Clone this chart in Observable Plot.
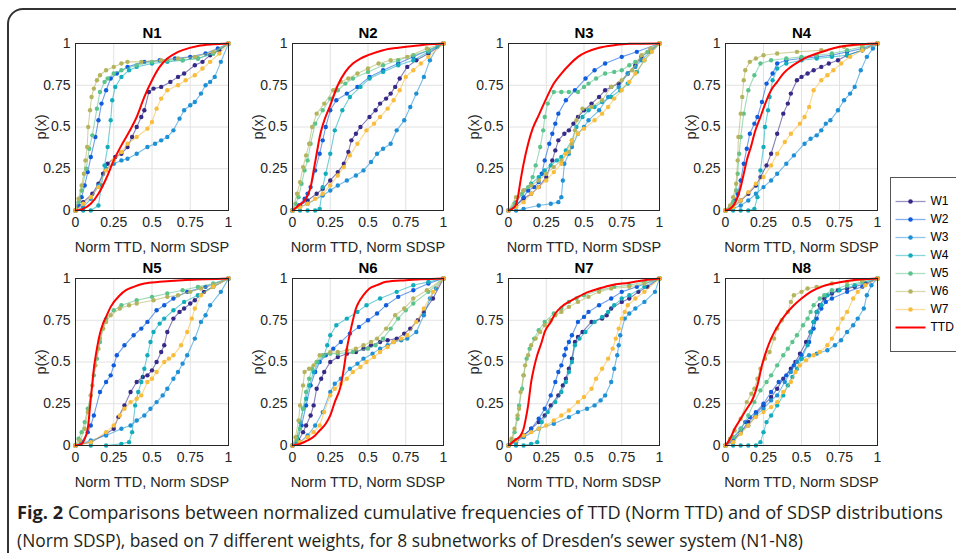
<!DOCTYPE html>
<html><head><meta charset="utf-8">
<script src="https://cdn.jsdelivr.net/npm/d3@7"></script>
<script src="https://cdn.jsdelivr.net/npm/@observablehq/plot@0.6"></script>
<style>
html,body{margin:0;padding:0;background:#fff;}
#root{position:relative;width:956px;height:553px;overflow:hidden;background:#fff;font-family:"Liberation Sans",Arial,sans-serif;}
#border{position:absolute;left:7px;top:8px;width:1000px;height:700px;border:2px solid #333;border-radius:16px;box-sizing:border-box;}
.panel{position:absolute;}
#legendbox{position:absolute;left:890px;top:177px;width:90px;height:175px;border:1px solid #555;background:#fff;box-sizing:border-box;}
#legend{position:absolute;left:890px;top:177px;}
.cap{position:absolute;left:17px;white-space:nowrap;font-family:"Open Sans",sans-serif;font-size:17.5px;color:#231f20;transform-origin:0 50%;line-height:28px;}
</style>
</head><body>
<div id="root">
  <div id="border"></div>
  <div id="legendbox"></div>
  <div id="cap1" class="cap" style="top:498px"><b>Fig. 2</b> Comparisons between normalized cumulative frequencies of TTD (Norm TTD) and of SDSP distributions</div>
  <div id="cap2" class="cap" style="top:526px">(Norm SDSP), based on 7 different weights, for 8 subnetworks of Dresden’s sewer system (N1-N8)</div>
</div>
<script>
// ---------- data ----------
const seriesNames = ["W1","W2","W3","W4","W5","W6","W7"];
const legendNames = ["W1","W2","W3","W4","W5","W6","W7","TTD"];
const seriesColors = ["#352a87","#0f5ddd","#1e90d6","#12adbc","#5bc38c","#b4b45e","#f8bd3c"];
const ttdColor = "#ff0000";
const panelTitles = ["N1","N2","N3","N4","N5","N6","N7","N8"];
const tickValues = [0,0.25,0.5,0.75,1];
const xLabel = "Norm TTD, Norm SDSP";
const yLabel = "p(x)";

const N1 = {
W1:[[0,0],[0.05,0.05],[0.11,0.1],[0.15,0.16],[0.18,0.22],[0.21,0.28],[0.26,0.32],[0.3,0.34],[0.34,0.38],[0.37,0.44],[0.4,0.5],[0.43,0.56],[0.45,0.6],[0.48,0.71],[0.51,0.73],[0.56,0.74],[0.62,0.77],[0.67,0.8],[0.71,0.82],[0.78,0.87],[0.83,0.89],[0.88,0.93],[0.94,0.96],[1,1]],
W2:[[0,0],[0.02,0.03],[0.04,0.08],[0.06,0.15],[0.08,0.23],[0.1,0.32],[0.13,0.44],[0.15,0.54],[0.17,0.64],[0.2,0.72],[0.23,0.79],[0.27,0.82],[0.34,0.86],[0.45,0.89],[0.55,0.9],[0.65,0.91],[0.75,0.92],[0.85,0.94],[0.93,0.97],[1,1]],
W3:[[0,0],[0.05,0.02],[0.1,0.07],[0.15,0.15],[0.2,0.25],[0.25,0.28],[0.3,0.3],[0.34,0.31],[0.4,0.34],[0.47,0.38],[0.52,0.4],[0.56,0.42],[0.6,0.44],[0.64,0.48],[0.68,0.55],[0.71,0.6],[0.75,0.63],[0.78,0.65],[0.82,0.7],[0.85,0.75],[0.88,0.77],[0.91,0.8],[0.95,0.89],[1,1]],
W4:[[0,0],[0.05,0],[0.1,0],[0.15,0.03],[0.17,0.15],[0.19,0.27],[0.21,0.38],[0.23,0.54],[0.24,0.66],[0.26,0.74],[0.3,0.8],[0.35,0.84],[0.4,0.86],[0.5,0.88],[0.6,0.89],[0.7,0.9],[0.8,0.91],[0.9,0.94],[1,1]],
W5:[[0,0],[0.02,0.05],[0.04,0.12],[0.07,0.25],[0.09,0.37],[0.11,0.45],[0.14,0.61],[0.16,0.71],[0.19,0.77],[0.21,0.79],[0.25,0.82],[0.3,0.84],[0.4,0.87],[0.5,0.89],[0.6,0.9],[0.7,0.9],[0.8,0.91],[0.9,0.94],[1,1]],
W6:[[0,0],[0.02,0.07],[0.04,0.15],[0.055,0.22],[0.065,0.3],[0.076,0.38],[0.083,0.5],[0.095,0.6],[0.105,0.68],[0.12,0.73],[0.14,0.78],[0.16,0.81],[0.2,0.84],[0.25,0.86],[0.3,0.88],[0.34,0.89],[0.43,0.89],[0.56,0.9],[0.67,0.91],[0.78,0.92],[0.9,0.95],[1,1]],
W7:[[0,0],[0.05,0.04],[0.1,0.08],[0.15,0.14],[0.2,0.24],[0.25,0.3],[0.3,0.35],[0.34,0.4],[0.4,0.44],[0.47,0.49],[0.5,0.53],[0.53,0.61],[0.56,0.67],[0.6,0.72],[0.67,0.75],[0.72,0.78],[0.78,0.81],[0.83,0.85],[0.88,0.89],[0.94,0.94],[1,1]],
TTD:[[0,0],[0.05,0.01],[0.1,0.04],[0.15,0.1],[0.2,0.19],[0.25,0.3],[0.3,0.39],[0.35,0.47],[0.4,0.56],[0.45,0.68],[0.5,0.78],[0.55,0.86],[0.6,0.91],[0.65,0.94],[0.7,0.96],[0.8,0.985],[0.9,0.995],[1,1]]
};
const N2 = {
W1:[[0,0],[0.05,0.03],[0.1,0.06],[0.16,0.1],[0.2,0.13],[0.25,0.18],[0.3,0.23],[0.34,0.28],[0.37,0.35],[0.39,0.42],[0.42,0.46],[0.45,0.5],[0.51,0.56],[0.55,0.6],[0.58,0.64],[0.62,0.67],[0.65,0.7],[0.68,0.74],[0.71,0.79],[0.76,0.86],[0.82,0.9],[0.9,0.94],[1,1]],
W2:[[0,0],[0.04,0.03],[0.08,0.07],[0.1,0.1],[0.12,0.14],[0.15,0.24],[0.18,0.34],[0.2,0.42],[0.22,0.5],[0.25,0.6],[0.29,0.66],[0.36,0.7],[0.43,0.74],[0.51,0.8],[0.6,0.84],[0.7,0.88],[0.8,0.92],[0.9,0.96],[1,1]],
W3:[[0,0],[0.1,0.04],[0.2,0.09],[0.25,0.12],[0.3,0.15],[0.36,0.18],[0.42,0.21],[0.47,0.24],[0.52,0.29],[0.56,0.34],[0.6,0.37],[0.65,0.4],[0.69,0.48],[0.74,0.54],[0.78,0.62],[0.82,0.7],[0.87,0.8],[0.91,0.9],[0.96,0.98],[1,1]],
W4:[[0,0],[0.05,0],[0.1,0],[0.15,0],[0.18,0.01],[0.2,0.14],[0.22,0.22],[0.25,0.34],[0.28,0.48],[0.33,0.6],[0.38,0.68],[0.45,0.74],[0.51,0.79],[0.6,0.83],[0.7,0.87],[0.8,0.9],[0.9,0.95],[1,1]],
W5:[[0,0],[0.02,0.04],[0.04,0.08],[0.06,0.16],[0.08,0.24],[0.1,0.3],[0.12,0.4],[0.15,0.52],[0.2,0.6],[0.25,0.67],[0.3,0.72],[0.35,0.76],[0.4,0.79],[0.5,0.83],[0.6,0.87],[0.7,0.9],[0.8,0.93],[0.9,0.96],[1,1]],
W6:[[0,0],[0.03,0.1],[0.05,0.17],[0.07,0.26],[0.09,0.33],[0.11,0.4],[0.13,0.5],[0.16,0.58],[0.21,0.64],[0.27,0.72],[0.32,0.77],[0.37,0.79],[0.43,0.82],[0.5,0.85],[0.57,0.88],[0.65,0.9],[0.76,0.92],[0.89,0.97],[1,1]],
W7:[[0,0],[0.05,0.02],[0.1,0.04],[0.15,0.07],[0.2,0.1],[0.25,0.15],[0.3,0.21],[0.34,0.26],[0.38,0.33],[0.43,0.4],[0.49,0.48],[0.54,0.52],[0.58,0.56],[0.63,0.61],[0.67,0.66],[0.71,0.72],[0.75,0.8],[0.8,0.84],[0.85,0.88],[0.9,0.92],[1,1]],
TTD:[[0,0],[0.04,0.03],[0.08,0.06],[0.1,0.09],[0.12,0.14],[0.14,0.24],[0.16,0.34],[0.18,0.44],[0.2,0.51],[0.25,0.63],[0.3,0.75],[0.35,0.83],[0.4,0.88],[0.45,0.91],[0.5,0.93],[0.6,0.96],[0.7,0.975],[0.8,0.985],[0.9,0.995],[1,1]]
};
const N3 = {
W1:[[0,0],[0.05,0.03],[0.1,0.07],[0.15,0.1],[0.2,0.14],[0.25,0.2],[0.29,0.3],[0.31,0.36],[0.33,0.42],[0.37,0.46],[0.4,0.48],[0.43,0.52],[0.46,0.56],[0.5,0.6],[0.55,0.64],[0.6,0.68],[0.64,0.72],[0.68,0.74],[0.73,0.76],[0.79,0.82],[0.84,0.87],[0.88,0.92],[0.94,0.96],[1,1]],
W2:[[0,0],[0.05,0.03],[0.1,0.08],[0.13,0.12],[0.17,0.14],[0.2,0.17],[0.22,0.22],[0.24,0.3],[0.27,0.4],[0.29,0.46],[0.31,0.52],[0.33,0.58],[0.38,0.66],[0.44,0.72],[0.51,0.79],[0.57,0.84],[0.64,0.88],[0.75,0.92],[0.85,0.95],[1,1]],
W3:[[0,0],[0.05,0],[0.1,0.01],[0.2,0.03],[0.28,0.04],[0.33,0.05],[0.35,0.08],[0.36,0.18],[0.37,0.28],[0.4,0.34],[0.42,0.38],[0.46,0.46],[0.5,0.5],[0.53,0.54],[0.6,0.6],[0.66,0.68],[0.73,0.74],[0.79,0.82],[0.84,0.86],[0.88,0.9],[0.94,0.95],[1,1]],
W4:[[0,0],[0.05,0.05],[0.1,0.12],[0.15,0.16],[0.2,0.2],[0.24,0.24],[0.28,0.27],[0.32,0.3],[0.35,0.32],[0.38,0.36],[0.42,0.42],[0.45,0.5],[0.49,0.56],[0.53,0.6],[0.57,0.62],[0.62,0.65],[0.68,0.68],[0.74,0.72],[0.79,0.76],[0.85,0.83],[0.9,0.9],[1,1]],
W5:[[0,0],[0.04,0.04],[0.09,0.1],[0.13,0.14],[0.16,0.2],[0.18,0.27],[0.21,0.38],[0.23,0.48],[0.24,0.56],[0.26,0.64],[0.3,0.71],[0.35,0.71],[0.4,0.71],[0.46,0.71],[0.5,0.74],[0.53,0.76],[0.58,0.79],[0.64,0.82],[0.7,0.83],[0.75,0.84],[0.8,0.87],[0.84,0.89],[0.92,0.95],[1,1]],
W6:[[0,0],[0.05,0.08],[0.1,0.12],[0.15,0.15],[0.2,0.18],[0.25,0.22],[0.3,0.26],[0.35,0.3],[0.4,0.35],[0.42,0.4],[0.44,0.48],[0.45,0.54],[0.49,0.61],[0.55,0.62],[0.62,0.66],[0.68,0.74],[0.75,0.78],[0.82,0.84],[0.88,0.93],[0.94,0.97],[1,1]],
W7:[[0,0],[0.05,0.02],[0.1,0.05],[0.15,0.1],[0.2,0.14],[0.25,0.18],[0.3,0.23],[0.35,0.28],[0.38,0.34],[0.42,0.42],[0.46,0.46],[0.5,0.49],[0.57,0.54],[0.62,0.58],[0.66,0.62],[0.7,0.67],[0.75,0.72],[0.8,0.77],[0.84,0.82],[0.9,0.9],[0.95,0.95],[1,1]],
TTD:[[0,0],[0.04,0.02],[0.06,0.07],[0.08,0.18],[0.1,0.28],[0.13,0.4],[0.16,0.49],[0.2,0.57],[0.25,0.67],[0.3,0.76],[0.35,0.82],[0.4,0.87],[0.46,0.92],[0.52,0.95],[0.6,0.975],[0.7,0.99],[0.8,0.998],[1,1]]
};
const N4 = {
W1:[[0,0],[0.05,0.02],[0.1,0.06],[0.15,0.1],[0.2,0.15],[0.23,0.2],[0.27,0.27],[0.3,0.34],[0.34,0.46],[0.38,0.58],[0.41,0.64],[0.43,0.7],[0.47,0.78],[0.5,0.8],[0.54,0.82],[0.58,0.84],[0.63,0.86],[0.68,0.88],[0.74,0.9],[0.8,0.93],[0.9,0.96],[1,1]],
W2:[[0,0],[0.03,0.02],[0.06,0.06],[0.08,0.1],[0.1,0.18],[0.12,0.28],[0.14,0.37],[0.16,0.46],[0.19,0.52],[0.21,0.56],[0.24,0.65],[0.27,0.76],[0.31,0.82],[0.34,0.88],[0.4,0.9],[0.5,0.91],[0.6,0.92],[0.7,0.93],[0.8,0.95],[0.9,0.97],[1,1]],
W3:[[0,0],[0.05,0.01],[0.1,0.03],[0.15,0.06],[0.2,0.1],[0.25,0.14],[0.3,0.18],[0.34,0.22],[0.4,0.28],[0.45,0.33],[0.52,0.4],[0.56,0.43],[0.6,0.45],[0.63,0.48],[0.66,0.52],[0.69,0.54],[0.74,0.6],[0.78,0.66],[0.82,0.7],[0.85,0.74],[0.89,0.84],[0.93,0.92],[0.97,0.97],[1,1]],
W4:[[0,0],[0.05,0],[0.1,0],[0.15,0],[0.19,0.01],[0.21,0.08],[0.23,0.24],[0.25,0.38],[0.26,0.5],[0.28,0.6],[0.29,0.68],[0.31,0.78],[0.34,0.85],[0.4,0.88],[0.5,0.9],[0.6,0.91],[0.7,0.92],[0.8,0.93],[0.9,0.96],[1,1]],
W5:[[0,0],[0.03,0.02],[0.05,0.05],[0.07,0.12],[0.08,0.22],[0.09,0.34],[0.1,0.44],[0.12,0.58],[0.15,0.72],[0.19,0.81],[0.23,0.88],[0.3,0.9],[0.4,0.91],[0.5,0.92],[0.6,0.93],[0.7,0.94],[0.8,0.96],[0.9,0.98],[1,1]],
W6:[[0,0],[0.03,0.03],[0.05,0.08],[0.07,0.16],[0.08,0.3],[0.085,0.44],[0.1,0.58],[0.11,0.68],[0.12,0.78],[0.13,0.84],[0.16,0.89],[0.2,0.91],[0.25,0.93],[0.34,0.94],[0.47,0.95],[0.63,0.96],[0.78,0.98],[0.9,0.99],[1,1]],
W7:[[0,0],[0.05,0.02],[0.1,0.06],[0.15,0.11],[0.2,0.16],[0.25,0.2],[0.3,0.27],[0.34,0.34],[0.39,0.41],[0.43,0.46],[0.49,0.52],[0.52,0.56],[0.55,0.62],[0.58,0.72],[0.63,0.78],[0.67,0.81],[0.71,0.84],[0.76,0.88],[0.82,0.92],[0.9,0.96],[1,1]],
TTD:[[0,0],[0.03,0.01],[0.06,0.04],[0.08,0.08],[0.1,0.14],[0.12,0.22],[0.14,0.3],[0.17,0.39],[0.19,0.46],[0.23,0.56],[0.27,0.66],[0.3,0.72],[0.34,0.77],[0.38,0.82],[0.43,0.86],[0.48,0.89],[0.54,0.92],[0.6,0.94],[0.67,0.96],[0.75,0.98],[0.82,0.99],[1,1]]
};
const N5 = {
W1:[[0,0],[0.1,0.02],[0.2,0.07],[0.25,0.1],[0.28,0.17],[0.32,0.24],[0.36,0.32],[0.4,0.38],[0.44,0.41],[0.47,0.42],[0.5,0.45],[0.53,0.5],[0.56,0.56],[0.58,0.6],[0.6,0.68],[0.64,0.76],[0.68,0.8],[0.71,0.82],[0.75,0.85],[0.78,0.87],[0.84,0.92],[0.9,0.95],[1,1]],
W2:[[0,0],[0.04,0.02],[0.08,0.08],[0.1,0.12],[0.12,0.18],[0.16,0.32],[0.2,0.38],[0.23,0.42],[0.25,0.48],[0.27,0.54],[0.32,0.6],[0.38,0.66],[0.43,0.7],[0.47,0.74],[0.53,0.81],[0.58,0.84],[0.64,0.88],[0.73,0.92],[0.85,0.95],[1,1]],
W3:[[0,0],[0.1,0.03],[0.2,0.06],[0.3,0.1],[0.36,0.12],[0.4,0.15],[0.45,0.18],[0.49,0.22],[0.53,0.26],[0.57,0.3],[0.6,0.34],[0.64,0.4],[0.67,0.44],[0.7,0.49],[0.73,0.54],[0.78,0.64],[0.82,0.74],[0.85,0.78],[0.88,0.84],[0.95,0.92],[1,1]],
W4:[[0,0],[0.1,0],[0.2,0],[0.3,0.01],[0.35,0.02],[0.37,0.08],[0.39,0.24],[0.41,0.32],[0.43,0.38],[0.45,0.46],[0.47,0.54],[0.49,0.62],[0.51,0.68],[0.55,0.73],[0.58,0.76],[0.64,0.81],[0.71,0.86],[0.8,0.9],[0.9,0.95],[1,1]],
W5:[[0,0],[0.02,0.04],[0.04,0.08],[0.06,0.14],[0.08,0.22],[0.1,0.3],[0.12,0.42],[0.14,0.52],[0.16,0.62],[0.18,0.7],[0.2,0.76],[0.25,0.81],[0.3,0.84],[0.4,0.87],[0.5,0.89],[0.6,0.91],[0.7,0.93],[0.8,0.95],[0.9,0.97],[1,1]],
W6:[[0,0],[0.03,0.03],[0.06,0.1],[0.08,0.2],[0.1,0.3],[0.11,0.36],[0.13,0.48],[0.15,0.58],[0.16,0.64],[0.18,0.7],[0.2,0.74],[0.23,0.78],[0.29,0.82],[0.35,0.84],[0.4,0.85],[0.51,0.87],[0.6,0.89],[0.67,0.9],[0.75,0.92],[0.82,0.94],[0.9,0.96],[1,1]],
W7:[[0,0],[0.1,0.02],[0.2,0.08],[0.25,0.12],[0.29,0.18],[0.32,0.22],[0.36,0.26],[0.4,0.28],[0.43,0.3],[0.47,0.38],[0.5,0.4],[0.53,0.44],[0.58,0.5],[0.61,0.52],[0.64,0.54],[0.69,0.6],[0.73,0.68],[0.76,0.76],[0.78,0.82],[0.82,0.9],[0.9,0.95],[1,1]],
TTD:[[0,0],[0.04,0.01],[0.06,0.04],[0.08,0.1],[0.1,0.28],[0.12,0.46],[0.14,0.58],[0.16,0.67],[0.18,0.73],[0.2,0.77],[0.23,0.83],[0.29,0.9],[0.33,0.93],[0.38,0.95],[0.45,0.97],[0.55,0.98],[0.7,0.99],[0.85,0.995],[1,1]]
};
const N6 = {
W1:[[0,0],[0.04,0.03],[0.07,0.08],[0.09,0.12],[0.12,0.18],[0.14,0.24],[0.16,0.34],[0.19,0.4],[0.21,0.44],[0.25,0.5],[0.3,0.53],[0.36,0.55],[0.42,0.56],[0.47,0.58],[0.52,0.6],[0.58,0.62],[0.63,0.63],[0.69,0.64],[0.74,0.67],[0.78,0.7],[0.83,0.75],[0.87,0.8],[0.93,0.88],[1,1]],
W2:[[0,0],[0.03,0.02],[0.06,0.12],[0.09,0.24],[0.12,0.36],[0.15,0.44],[0.18,0.5],[0.22,0.54],[0.27,0.58],[0.32,0.62],[0.38,0.67],[0.44,0.71],[0.5,0.75],[0.56,0.79],[0.62,0.84],[0.7,0.89],[0.8,0.93],[0.9,0.97],[1,1]],
W3:[[0,0],[0.05,0.02],[0.1,0.06],[0.15,0.12],[0.2,0.2],[0.25,0.32],[0.28,0.37],[0.32,0.4],[0.38,0.46],[0.43,0.49],[0.47,0.52],[0.53,0.55],[0.58,0.58],[0.63,0.6],[0.67,0.62],[0.72,0.63],[0.76,0.64],[0.82,0.68],[0.87,0.78],[0.91,0.88],[0.95,0.94],[1,1]],
W4:[[0,0],[0.03,0.05],[0.05,0.14],[0.07,0.22],[0.09,0.28],[0.11,0.36],[0.14,0.44],[0.17,0.5],[0.21,0.54],[0.23,0.6],[0.25,0.66],[0.29,0.72],[0.36,0.76],[0.43,0.8],[0.49,0.84],[0.58,0.88],[0.69,0.92],[0.8,0.96],[0.9,0.98],[1,1]],
W5:[[0,0],[0.03,0.03],[0.05,0.1],[0.07,0.22],[0.09,0.32],[0.11,0.4],[0.13,0.46],[0.16,0.5],[0.2,0.54],[0.25,0.55],[0.3,0.55],[0.4,0.56],[0.5,0.58],[0.55,0.6],[0.6,0.64],[0.65,0.7],[0.7,0.76],[0.75,0.81],[0.8,0.85],[0.9,0.92],[1,1]],
W6:[[0,0],[0.02,0.05],[0.04,0.15],[0.05,0.24],[0.07,0.36],[0.08,0.44],[0.11,0.46],[0.14,0.48],[0.18,0.54],[0.25,0.56],[0.3,0.56],[0.36,0.57],[0.42,0.58],[0.47,0.6],[0.52,0.62],[0.56,0.64],[0.62,0.7],[0.68,0.78],[0.74,0.82],[0.8,0.88],[0.89,0.93],[1,1]],
W7:[[0,0],[0.05,0.02],[0.1,0.05],[0.14,0.08],[0.18,0.12],[0.21,0.2],[0.25,0.3],[0.28,0.34],[0.32,0.37],[0.36,0.4],[0.4,0.44],[0.45,0.47],[0.49,0.5],[0.54,0.53],[0.58,0.56],[0.63,0.59],[0.67,0.62],[0.72,0.64],[0.76,0.66],[0.82,0.74],[0.87,0.82],[0.93,0.92],[1,1]],
TTD:[[0,0],[0.05,0.01],[0.1,0.03],[0.15,0.06],[0.18,0.09],[0.22,0.13],[0.25,0.18],[0.28,0.26],[0.32,0.36],[0.34,0.46],[0.36,0.58],[0.38,0.67],[0.4,0.75],[0.42,0.82],[0.44,0.86],[0.47,0.9],[0.51,0.94],[0.56,0.96],[0.62,0.98],[0.75,0.99],[1,1]]
};
const N7 = {
W1:[[0,0],[0.05,0.03],[0.1,0.06],[0.15,0.1],[0.2,0.14],[0.24,0.18],[0.28,0.24],[0.33,0.3],[0.36,0.36],[0.38,0.4],[0.4,0.46],[0.42,0.52],[0.44,0.62],[0.46,0.65],[0.49,0.68],[0.55,0.74],[0.62,0.76],[0.65,0.78],[0.68,0.82],[0.75,0.86],[0.8,0.88],[0.86,0.92],[0.92,0.95],[1,1]],
W2:[[0,0],[0.05,0.03],[0.1,0.06],[0.15,0.1],[0.2,0.16],[0.24,0.22],[0.28,0.3],[0.31,0.38],[0.33,0.44],[0.35,0.48],[0.37,0.54],[0.38,0.58],[0.4,0.62],[0.42,0.66],[0.46,0.74],[0.5,0.77],[0.53,0.8],[0.6,0.84],[0.68,0.88],[0.75,0.92],[0.85,0.95],[1,1]],
W3:[[0,0],[0.05,0.02],[0.1,0.05],[0.2,0.1],[0.3,0.13],[0.4,0.17],[0.46,0.2],[0.52,0.22],[0.57,0.24],[0.61,0.27],[0.64,0.3],[0.68,0.38],[0.7,0.46],[0.72,0.54],[0.73,0.6],[0.74,0.66],[0.77,0.76],[0.8,0.79],[0.84,0.82],[0.9,0.86],[0.97,0.92],[1,1]],
W4:[[0,0],[0.05,0],[0.1,0],[0.15,0.01],[0.19,0.02],[0.22,0.14],[0.26,0.2],[0.31,0.26],[0.35,0.32],[0.38,0.38],[0.4,0.44],[0.42,0.5],[0.44,0.6],[0.47,0.64],[0.51,0.68],[0.57,0.74],[0.62,0.77],[0.66,0.8],[0.7,0.84],[0.75,0.88],[0.8,0.9],[0.9,0.95],[1,1]],
W5:[[0,0],[0.02,0.03],[0.04,0.08],[0.06,0.16],[0.07,0.24],[0.09,0.34],[0.1,0.42],[0.12,0.52],[0.14,0.58],[0.17,0.64],[0.2,0.69],[0.24,0.74],[0.3,0.79],[0.35,0.82],[0.4,0.86],[0.45,0.88],[0.5,0.9],[0.6,0.93],[0.7,0.95],[0.8,0.96],[0.9,0.98],[1,1]],
W6:[[0,0],[0.02,0.04],[0.04,0.1],[0.06,0.18],[0.07,0.22],[0.08,0.32],[0.1,0.42],[0.11,0.48],[0.13,0.54],[0.15,0.6],[0.18,0.64],[0.21,0.68],[0.24,0.72],[0.28,0.75],[0.31,0.78],[0.35,0.8],[0.4,0.83],[0.46,0.86],[0.53,0.89],[0.6,0.92],[0.68,0.94],[0.8,0.95],[0.9,0.97],[1,1]],
W7:[[0,0],[0.05,0.03],[0.1,0.06],[0.15,0.08],[0.2,0.1],[0.25,0.12],[0.3,0.15],[0.35,0.18],[0.4,0.21],[0.46,0.26],[0.5,0.29],[0.55,0.34],[0.58,0.4],[0.62,0.46],[0.66,0.52],[0.69,0.58],[0.71,0.64],[0.73,0.7],[0.75,0.76],[0.77,0.8],[0.79,0.84],[0.84,0.88],[0.9,0.92],[1,1]],
TTD:[[0,0],[0.04,0.03],[0.08,0.06],[0.1,0.1],[0.11,0.14],[0.13,0.24],[0.15,0.38],[0.17,0.47],[0.19,0.54],[0.22,0.62],[0.24,0.68],[0.28,0.74],[0.31,0.79],[0.35,0.83],[0.4,0.86],[0.46,0.89],[0.53,0.92],[0.6,0.94],[0.68,0.96],[0.8,0.975],[0.9,0.99],[1,1]]
};
const N8 = {
W1:[[0,0],[0.05,0.03],[0.1,0.08],[0.15,0.14],[0.2,0.19],[0.25,0.24],[0.3,0.29],[0.34,0.34],[0.38,0.4],[0.43,0.46],[0.46,0.5],[0.49,0.55],[0.53,0.62],[0.56,0.68],[0.58,0.74],[0.6,0.8],[0.62,0.84],[0.65,0.88],[0.7,0.91],[0.74,0.93],[0.8,0.94],[0.85,0.95],[0.92,0.97],[1,1]],
W2:[[0,0],[0.05,0.04],[0.1,0.1],[0.13,0.14],[0.16,0.17],[0.2,0.2],[0.25,0.25],[0.3,0.32],[0.35,0.38],[0.4,0.42],[0.45,0.48],[0.5,0.54],[0.55,0.62],[0.58,0.7],[0.6,0.76],[0.63,0.82],[0.66,0.86],[0.7,0.88],[0.8,0.92],[0.9,0.95],[1,1]],
W3:[[0,0],[0.05,0.02],[0.1,0.08],[0.15,0.12],[0.2,0.18],[0.25,0.22],[0.3,0.27],[0.34,0.3],[0.39,0.38],[0.43,0.44],[0.47,0.5],[0.5,0.52],[0.55,0.54],[0.6,0.55],[0.67,0.57],[0.72,0.6],[0.76,0.63],[0.8,0.68],[0.84,0.72],[0.87,0.76],[0.91,0.82],[0.93,0.9],[0.96,0.96],[1,1]],
W4:[[0,0],[0.05,0],[0.1,0],[0.15,0],[0.2,0],[0.23,0.02],[0.25,0.08],[0.27,0.14],[0.3,0.18],[0.34,0.24],[0.38,0.3],[0.41,0.36],[0.44,0.41],[0.47,0.46],[0.5,0.52],[0.54,0.6],[0.56,0.68],[0.58,0.74],[0.6,0.8],[0.63,0.84],[0.67,0.9],[0.75,0.93],[0.85,0.96],[1,1]],
W5:[[0,0],[0.05,0.05],[0.1,0.1],[0.15,0.18],[0.19,0.26],[0.23,0.33],[0.27,0.38],[0.3,0.42],[0.34,0.48],[0.38,0.54],[0.41,0.58],[0.44,0.62],[0.47,0.66],[0.51,0.72],[0.54,0.76],[0.56,0.8],[0.58,0.84],[0.62,0.88],[0.65,0.9],[0.7,0.93],[0.8,0.96],[0.9,0.98],[1,1]],
W6:[[0,0],[0.03,0.04],[0.06,0.09],[0.1,0.16],[0.14,0.26],[0.17,0.31],[0.19,0.34],[0.21,0.4],[0.23,0.46],[0.26,0.52],[0.29,0.56],[0.32,0.64],[0.34,0.7],[0.37,0.75],[0.41,0.8],[0.43,0.86],[0.45,0.9],[0.5,0.92],[0.54,0.94],[0.6,0.95],[0.7,0.97],[0.8,0.98],[0.9,0.99],[1,1]],
W7:[[0,0],[0.05,0.02],[0.1,0.07],[0.15,0.12],[0.2,0.17],[0.25,0.2],[0.3,0.23],[0.34,0.26],[0.38,0.32],[0.43,0.38],[0.46,0.44],[0.49,0.48],[0.53,0.51],[0.58,0.54],[0.62,0.56],[0.67,0.6],[0.7,0.64],[0.74,0.7],[0.77,0.76],[0.8,0.8],[0.84,0.88],[0.87,0.92],[0.92,0.96],[1,1]],
TTD:[[0,0],[0.03,0.04],[0.06,0.1],[0.1,0.16],[0.14,0.22],[0.18,0.28],[0.21,0.36],[0.24,0.48],[0.27,0.57],[0.3,0.64],[0.36,0.74],[0.4,0.79],[0.45,0.84],[0.5,0.88],[0.56,0.92],[0.63,0.95],[0.71,0.97],[0.8,0.985],[0.9,0.995],[1,1]]
};
const panelData = [N1,N2,N3,N4,N5,N6,N7,N8];

// ---------- layout ----------
const colLeft = [75, 292, 508, 725];
const colWidth = [153, 151, 151, 152];
const rowTop = [43, 278];
const plotH = 167;
const ML = 45, MR = 12, MT = 28, MB = 50;
const FONT = "'Liberation Sans', Arial, Helvetica, sans-serif";

const root = document.getElementById("root");

panelData.forEach((data, i) => {
  const col = i % 4, row = Math.floor(i / 4);
  const pw = colWidth[col];
  const marks = [
    Plot.gridX(tickValues, {stroke: "#e2e2e2", strokeOpacity: 1, strokeWidth: 1}),
    Plot.gridY(tickValues, {stroke: "#e2e2e2", strokeOpacity: 1, strokeWidth: 1})
  ];
  seriesNames.forEach((s, k) => {
    const pts = data[s].map(([x, y]) => ({x, y}));
    marks.push(Plot.line(pts, {x: "x", y: "y", stroke: seriesColors[k], strokeWidth: 1.1, strokeOpacity: 0.6}));
    marks.push(Plot.dot(pts, {x: "x", y: "y", fill: seriesColors[k], r: 2.2, stroke: "none"}));
  });
  marks.push(Plot.line(data.TTD.map(([x, y]) => ({x, y})), {x: "x", y: "y", stroke: ttdColor, strokeWidth: 2, curve: "monotone-x"}));
  marks.push(Plot.frame({stroke: "#262626", strokeWidth: 1}));
  marks.push(Plot.axisX(tickValues, {tickSize: 0, tickPadding: 7, tickFormat: d => String(d), label: null, fontSize: 14, fill: "#262626"}));
  marks.push(Plot.axisY(tickValues, {tickSize: 0, tickPadding: 5, tickFormat: d => String(d), label: null, fontSize: 14, fill: "#262626"}));
  marks.push(Plot.text([panelTitles[i]], {frameAnchor: "top", lineAnchor: "middle", dy: -10, fontWeight: "bold", fontSize: 15, fill: "#000"}));
  marks.push(Plot.text([xLabel], {frameAnchor: "bottom", lineAnchor: "middle", dy: 37, fontSize: 14.5, fill: "#262626"}));
  marks.push(Plot.text([yLabel], {frameAnchor: "left", textAnchor: "middle", lineAnchor: "middle", dx: -34, rotate: -90, fontSize: 14.5, fill: "#262626"}));

  const svg = Plot.plot({
    width: ML + pw + MR, height: MT + plotH + MB,
    marginLeft: ML, marginRight: MR, marginTop: MT, marginBottom: MB,
    style: {fontFamily: FONT, fontSize: "14px", color: "#262626", background: "transparent", overflow: "visible"},
    x: {domain: [0, 1]}, y: {domain: [0, 1]},
    marks
  });
  svg.classList.add("panel");
  svg.style.left = (colLeft[col] - ML) + "px";
  svg.style.top = (rowTop[row] - MT) + "px";
  svg.style.position = "absolute";
  root.appendChild(svg);
});

// ---------- legend ----------
const legendColor = name => name === "TTD" ? ttdColor : seriesColors[seriesNames.indexOf(name)];
const legend = Plot.plot({
  width: 66, height: 175, margin: 0,
  x: {type: "identity", axis: null},
  y: {type: "point", domain: legendNames, range: [13, 160], axis: null},
  style: {fontFamily: FONT, fontSize: "12px", background: "transparent", overflow: "visible"},
  marks: [
    Plot.link(legendNames, {x1: 5, x2: 35, y1: d => d, y2: d => d, stroke: legendColor, strokeWidth: d => d === "TTD" ? 2 : 1.3, strokeOpacity: d => d === "TTD" ? 1 : 0.5}),
    Plot.dot(seriesNames, {x: 20, y: d => d, fill: legendColor, r: 2.3}),
    Plot.text(legendNames, {x: 40, y: d => d, text: d => d, textAnchor: "start", fill: "#000", fontSize: 12})
  ]
});
legend.id = "legend";
legend.style.position = "absolute";
legend.style.left = "890px";
legend.style.top = "177px";
root.appendChild(legend);

// ---------- caption fit ----------
[["cap1", 926], ["cap2", 786]].forEach(([id, w]) => {
  const el = document.getElementById(id);
  const cw = el.getBoundingClientRect().width;
  el.style.transform = `scaleX(${w / cw})`;
});
</script>
</body></html>
